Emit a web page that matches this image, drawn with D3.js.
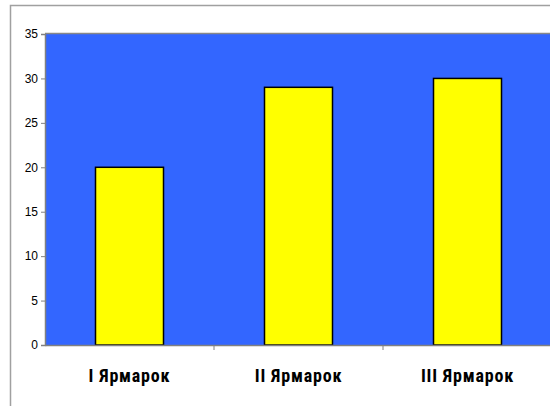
<!DOCTYPE html>
<html>
<head>
<meta charset="utf-8">
<script src="https://cdn.jsdelivr.net/npm/d3@7"></script>
<style>
  body { margin: 0; background: #fff; }
  svg { display: block; }
</style>
</head>
<body>
<script>
// data
const categories = ['I Ярмарок', 'II Ярмарок', 'III Ярмарок']
const values = [20, 29, 30]
const yTicks = [0, 5, 10, 15, 20, 25, 30, 35]

const W = 550, H = 406
const m = { left: 45, top: 34, right: 551, bottom: 345 }

const svg = d3.select('body').append('svg')
  .attr('width', W)
  .attr('height', H)

// outer chart frame (cut off at right/bottom)
svg.append('rect')
  .attr('x', 10.5).attr('y', 5.5)
  .attr('width', 600).attr('height', 500)
  .attr('fill', '#fff')
  .attr('stroke', '#a0a0a0')
  .attr('stroke-width', 1.5)

const x = d3.scaleBand()
  .domain(categories)
  .range([m.left, m.left + 3 * 169])
  .paddingInner(0)
  .paddingOuter(0)

const y = d3.scaleLinear()
  .domain([0, 35])
  .range([m.bottom, m.top])

// plot area
svg.append('rect')
  .attr('x', m.left).attr('y', m.top)
  .attr('width', W - m.left + 5).attr('height', m.bottom - m.top)
  .attr('fill', '#3366ff')

svg.append('line')
  .attr('x1', m.left).attr('x2', W)
  .attr('y1', m.top - 0.5).attr('y2', m.top - 0.5)
  .attr('stroke', '#888').attr('stroke-width', 1.5)

// bars
const bw = 68
svg.selectAll('rect.bar')
  .data(values)
  .enter()
  .append('rect')
  .attr('class', 'bar')
  .attr('x', (d, i) => x(categories[i]) + x.bandwidth() / 2 - bw / 2)
  .attr('y', d => y(d))
  .attr('width', bw)
  .attr('height', d => y(0) - y(d))
  .attr('fill', '#ffff00')
  .attr('stroke', '#000')
  .attr('stroke-width', 1.5)

// y axis
const yAxis = svg.append('g')
  .attr('transform', `translate(${m.left},0)`)
  .call(d3.axisLeft(y).tickValues(yTicks).tickSize(4).tickPadding(3))
yAxis.select('.domain').attr('stroke', '#808080').attr('stroke-width', 1.5)
yAxis.selectAll('.tick line').attr('stroke', '#808080')
yAxis.selectAll('.tick text')
  .attr('font-family', '"Liberation Sans Narrow", "Liberation Sans", Arial, sans-serif')
  .attr('font-size', 12)
  .attr('fill', '#000')

// x axis
const xAxis = svg.append('g')
  .attr('transform', `translate(0,${m.bottom})`)
  .call(d3.axisBottom(x).tickSize(0).tickPadding(24))
xAxis.select('.domain').attr('stroke', '#808080').attr('stroke-width', 1.5)
xAxis.selectAll('.tick text')
  .attr('font-family', '"Roboto Condensed", "Liberation Sans Narrow", Roboto, sans-serif')
  .attr('font-weight', 'bold')
  .attr('font-size', 18)
  .attr('letter-spacing', 0.8)
  .attr('fill', '#000')

// category separators
svg.selectAll('line.sep')
  .data(categories.slice(1))
  .enter()
  .append('line')
  .attr('class', 'sep')
  .attr('x1', d => x(d)).attr('x2', d => x(d))
  .attr('y1', m.bottom).attr('y2', m.bottom + 5)
  .attr('stroke', '#808080')
</script>
</body>
</html>
